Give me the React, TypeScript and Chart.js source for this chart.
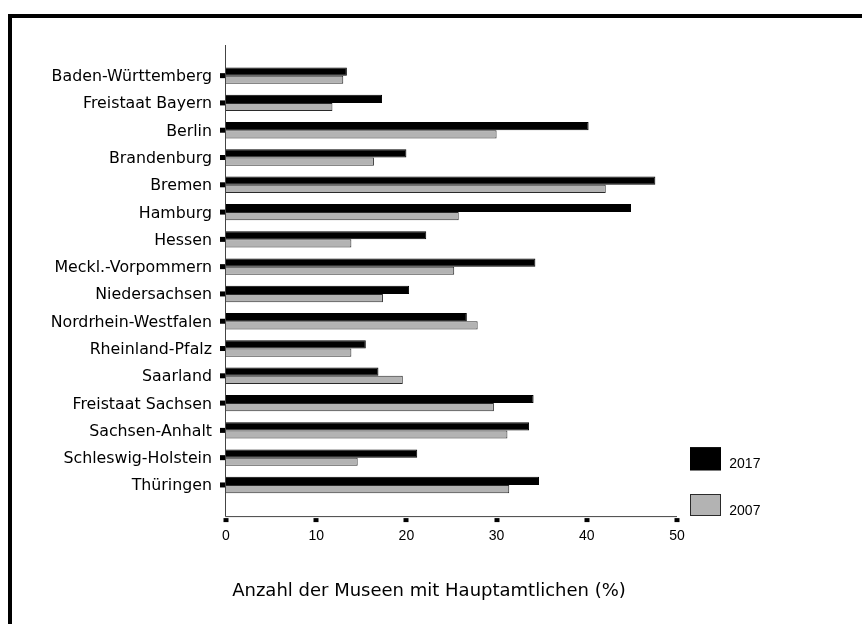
import React, { useEffect, useRef } from "react";
import { Chart, registerables } from "chart.js";

Chart.register(...registerables);

const categories = [
  "Baden-Württemberg",
  "Freistaat Bayern",
  "Berlin",
  "Brandenburg",
  "Bremen",
  "Hamburg",
  "Hessen",
  "Meckl.-Vorpommern",
  "Niedersachsen",
  "Nordrhein-Westfalen",
  "Rheinland-Pfalz",
  "Saarland",
  "Freistaat Sachsen",
  "Sachsen-Anhalt",
  "Schleswig-Holstein",
  "Thüringen",
];
const values2017 = [13.4, 17.3, 40.2, 20.0, 47.6, 44.9, 22.2, 34.3, 20.3, 26.7, 15.5, 16.9, 34.1, 33.6, 21.2, 34.7];
const values2007 = [13.0, 11.8, 30.0, 16.4, 42.1, 25.8, 13.9, 25.3, 17.4, 27.9, 13.9, 19.6, 29.7, 31.2, 14.6, 31.4];
const seriesLabels = ["2017", "2007"];
const xMin = 0;
const xMax = 50;
const xStep = 10;
const axisTitle = "Anzahl der Museen mit Hauptamtlichen (%)";

const LABEL_FONT = "15.8px 'DejaVu Sans', sans-serif";
const TITLE_FONT = "18px 'DejaVu Sans', sans-serif";
const NUM_FONT = "14px 'Liberation Sans', Arial, sans-serif";

const drawPlugin = {
  id: "customAxes",
  afterDraw(chart: any) {
    const { ctx, chartArea } = chart;
    const { left, right, top, bottom } = chartArea;
    const xs = chart.scales.x;
    const ys = chart.scales.y;
    ctx.save();
    const axisY = bottom + 18;
    // axis lines
    ctx.strokeStyle = "#444";
    ctx.lineWidth = 1;
    ctx.beginPath();
    ctx.moveTo(left - 0.5, top - 17);
    ctx.lineTo(left - 0.5, axisY);
    ctx.lineTo(right, axisY);
    ctx.stroke();

    // x ticks
    ctx.fillStyle = "#000";
    ctx.font = NUM_FONT;
    ctx.textAlign = "center";
    ctx.textBaseline = "alphabetic";
    xs.ticks.forEach((t: any) => {
      const px = xs.getPixelForValue(t.value);
      ctx.fillRect(Math.round(px) - 2.5, axisY + 1.5, 5, 4);
      ctx.fillText(String(t.value), px, axisY + 23);
    });

    // y ticks + labels
    ctx.font = LABEL_FONT;
    ctx.textAlign = "right";
    chart.data.labels.forEach((lab: string, i: number) => {
      const cy = ys.getPixelForValue(i);
      ctx.fillRect(left - 6, cy - 2.5, 5, 5);
      ctx.fillText(lab, left - 14, cy + 5.5);
    });

    // axis title
    ctx.font = TITLE_FONT;
    ctx.textAlign = "center";
    ctx.fillText(axisTitle, (left + right) / 2 - 22.5, bottom + 97);

    // legend
    const boxTops = [bottom - 51.3, bottom - 4.6];
    const boxH = [23, 22];
    chart.data.datasets.forEach((ds: any, i: number) => {
      const bx = right + 13;
      const by = boxTops[i];
      ctx.fillStyle = ds.backgroundColor;
      ctx.fillRect(bx, by, 31, boxH[i]);
      ctx.strokeStyle = ds.borderColor;
      ctx.lineWidth = 1;
      ctx.strokeRect(bx + 0.5, by + 0.5, 30, boxH[i] - 1);
      ctx.fillStyle = "#000";
      ctx.font = NUM_FONT;
      ctx.textAlign = "left";
      ctx.fillText(ds.label, right + 52.3, by + 21);
    });
    ctx.restore();
  },
};

export default function App() {
  const ref = useRef<HTMLCanvasElement>(null);
  useEffect(() => {
    if (!ref.current) return;
    const chart = new Chart(ref.current, {
      type: "bar",
      data: {
        labels: categories,
        datasets: [
          {
            label: seriesLabels[0],
            data: values2017,
            backgroundColor: "#000000",
            borderColor: "#000000",
            borderWidth: 1,
          },
          {
            label: seriesLabels[1],
            data: values2007,
            backgroundColor: "#b3b3b3",
            borderColor: "#2a2a2a",
            borderWidth: 1,
          },
        ],
      },
      options: {
        indexAxis: "y",
        responsive: false,
        animation: false,
        layout: { padding: { left: 214, right: 185, top: 44, bottom: 125.4 } },
        datasets: { bar: { categoryPercentage: 0.6, barPercentage: 1.0 } },
        scales: {
          x: {
            display: false,
            min: xMin,
            max: xMax,
            ticks: { stepSize: xStep },
          },
          y: { display: false },
        },
        plugins: {
          legend: { display: false },
          title: { display: false },
          tooltip: { enabled: false },
        },
      },
      plugins: [drawPlugin],
    } as any);
    return () => chart.destroy();
  }, []);
  return (
    <div
      style={{
        position: "absolute",
        left: 8,
        top: 14,
        width: 854,
        height: 610,
        borderTop: "4px solid #000",
        borderLeft: "4px solid #000",
        boxSizing: "border-box",
        background: "#fff",
      }}
    >
      <canvas ref={ref} width={850} height={606} style={{ display: "block" }} />
    </div>
  );
}
